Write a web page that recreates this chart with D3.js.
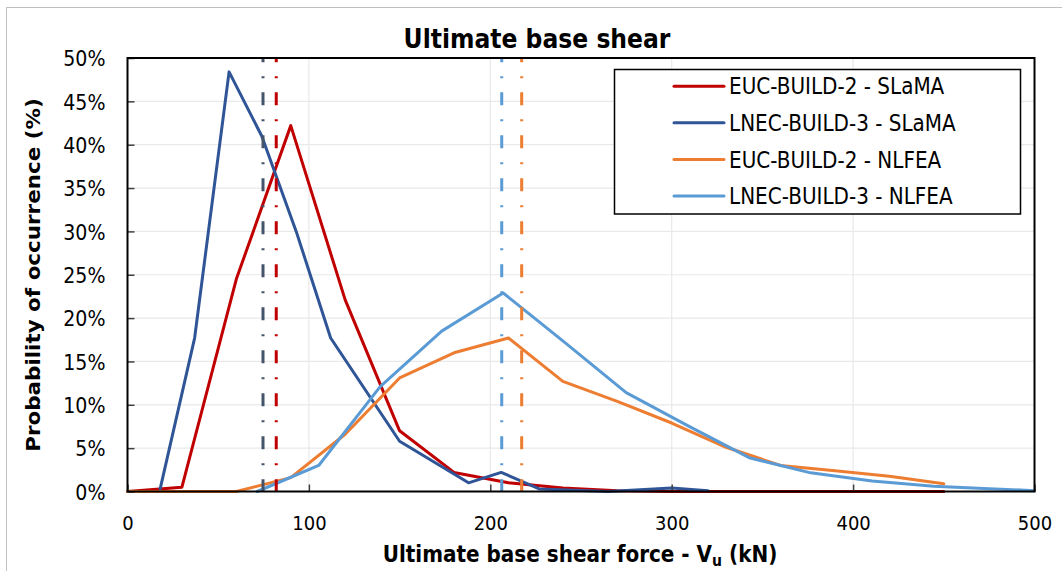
<!DOCTYPE html>
<html>
<head>
<meta charset="utf-8">
<script src="https://cdn.jsdelivr.net/npm/d3@7"></script>
<style>
  html, body { margin: 0; padding: 0; background: #fff; }
  svg { display: block; font-family: "DejaVu Sans", Verdana, sans-serif; }
</style>
</head>
<body>
<svg id="chart" width="1062" height="571"></svg>
<script>
// Ultimate base shear force (kN) and probability of occurrence (%)
const eucSlamaX  = [0, 30, 60, 90, 120, 150, 180, 210, 240, 270, 300, 330, 360, 390, 420, 450];
const eucSlamaP  = [0, 0.5, 24.5, 42.2, 22.1, 7.0, 2.2, 1.0, 0.4, 0.1, 0, 0, 0, 0, 0, 0];

const lnecSlamaX = [18, 37, 56, 74, 93, 112, 150, 188, 206, 227, 265, 300, 320];
const lnecSlamaP = [0.3, 17.7, 48.4, 41.0, 30.0, 17.7, 5.8, 1.0, 2.2, 0.3, 0.0, 0.4, 0.1];

const eucNlfeaX  = [0, 30, 60, 90, 120, 150, 180, 210, 240, 270, 300, 330, 360, 390, 420, 450];
const eucNlfeaP  = [0, 0, 0, 1.6, 6.6, 13.1, 16.0, 17.7, 12.7, 10.4, 7.9, 5.1, 3.0, 2.4, 1.75, 0.9];

const lnecNlfeaX = [71.5, 88.4, 105.4, 139.3, 173.2, 207.1, 241, 274.9, 308.8, 342.7, 376.6, 410.5, 444.4, 478.3, 500];
const lnecNlfeaP = [0, 1.5, 3.0, 12.1, 18.5, 22.9, 17.2, 11.4, 7.6, 3.9, 2.15, 1.2, 0.6, 0.3, 0.1];

// Mean values (kN), drawn as vertical dash-dot lines
const meanValues = [82.0, 74.7, 217.3, 206.3];
const meanColors = ["#C00000", "#44546A", "#ED7D31", "#5B9BD5"];

const seriesNames  = ["EUC-BUILD-2 - SLaMA", "LNEC-BUILD-3 - SLaMA", "EUC-BUILD-2 - NLFEA", "LNEC-BUILD-3 - NLFEA"];
const seriesColors = ["#C00000", "#2F5597", "#ED7D31", "#5B9BD5"];

const xTicks = [0, 100, 200, 300, 400, 500];
const yTicks = [0, 5, 10, 15, 20, 25, 30, 35, 40, 45, 50];

const chartTitle = "Ultimate base shear";
const yTitle = "Probability of occurrence (%)";

const series = [
  { name: seriesNames[0], color: seriesColors[0], xs: eucSlamaX,  ps: eucSlamaP },
  { name: seriesNames[1], color: seriesColors[1], xs: lnecSlamaX, ps: lnecSlamaP },
  { name: seriesNames[2], color: seriesColors[2], xs: eucNlfeaX,  ps: eucNlfeaP },
  { name: seriesNames[3], color: seriesColors[3], xs: lnecNlfeaX, ps: lnecNlfeaP }
];

const SY = 1.12; // vertical text stretch
const svg = d3.select("#chart");
const plotL = 127.5, plotR = 1034.5, plotT = 58, plotB = 491.5;

const x = d3.scaleLinear().domain([0, 500]).range([plotL, plotR]);
const y = d3.scaleLinear().domain([0, 50]).range([plotB, plotT]);

// outer chart frame
svg.append("rect")
  .attr("x", 6.5).attr("y", 7.5).attr("width", 1100).attr("height", 600)
  .attr("fill", "#fff").attr("stroke", "#BFBFBF").attr("stroke-width", 1);

// gridlines
const grid = svg.append("g");
grid.selectAll(".gy").data(yTicks.slice(1)).join("line")
  .attr("x1", plotL).attr("x2", plotR)
  .attr("y1", d => y(d)).attr("y2", d => y(d))
  .attr("stroke", "#E9E9E9").attr("stroke-width", 1.2);
grid.selectAll(".gx").data(xTicks.slice(1)).join("line")
  .attr("x1", d => x(d)).attr("x2", d => x(d))
  .attr("y1", plotT).attr("y2", plotB)
  .attr("stroke", "#E9E9E9").attr("stroke-width", 1.2);

// data curves
const line = d3.line().x(d => x(d[0])).y(d => y(d[1]));
const curves = svg.append("g");
series.forEach(s => {
  curves.append("path")
    .datum(s.xs.map((v, i) => [v, s.ps[i]]))
    .attr("d", line)
    .attr("fill", "none")
    .attr("stroke", s.color)
    .attr("stroke-width", 3)
    .attr("stroke-linejoin", "round")
    .attr("stroke-linecap", "round");
});

// mean lines (dash-dot)
const means = svg.append("g");
meanValues.forEach((m, i) => {
  means.append("line")
    .attr("x1", x(m)).attr("x2", x(m))
    .attr("y1", plotT).attr("y2", plotB)
    .attr("stroke", meanColors[i])
    .attr("stroke-width", 3)
    .attr("stroke-dasharray", "13,14,2,14")
    .attr("stroke-dashoffset", 8.7);
});

// axes
const xAxis = svg.append("g").attr("transform", `translate(0,${plotB})`)
  .call(d3.axisBottom(x).tickValues(xTicks).tickSizeInner(-7).tickSizeOuter(0).tickFormat(d3.format("d")));
xAxis.select(".domain").remove();
xAxis.selectAll(".tick line").attr("stroke", "#404040").attr("stroke-width", 1.5);
xAxis.selectAll(".tick text")
  .attr("x", 0).attr("y", 0).attr("dy", null)
  .attr("transform", `translate(0,38) scale(1,${SY})`)
  .attr("font-size", 18).attr("font-family", "DejaVu Sans, Verdana, sans-serif")
  .attr("fill", "#000");

const yAxis = svg.append("g").attr("transform", `translate(${plotL},0)`)
  .call(d3.axisLeft(y).tickValues(yTicks).tickSizeInner(-7).tickSizeOuter(0).tickFormat(d => d + "%"));
yAxis.select(".domain").remove();
yAxis.selectAll(".tick line").attr("stroke", "#404040").attr("stroke-width", 1.5);
yAxis.selectAll(".tick text")
  .attr("x", 0).attr("y", 0).attr("dy", "0.36em")
  .attr("transform", `translate(-22,0) scale(1,${SY})`)
  .attr("font-size", 19).attr("font-family", "DejaVu Sans, Verdana, sans-serif")
  .attr("fill", "#000");

// plot border
svg.append("rect")
  .attr("x", plotL).attr("y", plotT).attr("width", plotR - plotL).attr("height", plotB - plotT)
  .attr("fill", "none").attr("stroke", "#000").attr("stroke-width", 2);

// title
svg.append("text")
  .attr("transform", `translate(537,48) scale(1,${SY})`)
  .attr("text-anchor", "middle").attr("font-weight", "bold").attr("font-size", 23.5)
  .text(chartTitle);

// x axis title
const xt = svg.append("text")
  .attr("transform", `translate(580,562) scale(1,${SY})`)
  .attr("text-anchor", "middle").attr("font-weight", "bold").attr("font-size", 20);
xt.append("tspan").text("Ultimate base shear force - V");
xt.append("tspan").attr("font-size", 14).attr("dy", 4).text("u");
xt.append("tspan").attr("dy", -4).text(" (kN)");

// y axis title
svg.append("text")
  .attr("transform", "translate(40,275) rotate(-90) scale(1.1,1)")
  .attr("text-anchor", "middle").attr("font-weight", "bold").attr("font-size", 19.5)
  .text(yTitle);

// legend
const lg = svg.append("g");
lg.append("rect")
  .attr("x", 614.5).attr("y", 69.5).attr("width", 406).attr("height", 144.5)
  .attr("fill", "#fff").attr("stroke", "#000").attr("stroke-width", 1.5);
const legendY = d3.scalePoint().domain(seriesNames).range([86.3, 196]);
series.forEach(s => {
  const cy = legendY(s.name);
  lg.append("line")
    .attr("x1", 674).attr("x2", 724).attr("y1", cy).attr("y2", cy)
    .attr("stroke", s.color).attr("stroke-width", 3).attr("stroke-linecap", "round");
  lg.append("text")
    .attr("transform", `translate(729,${cy}) scale(1,${SY})`)
    .attr("dy", "0.36em").attr("font-size", 20)
    .text(s.name);
});
</script>
</body>
</html>
